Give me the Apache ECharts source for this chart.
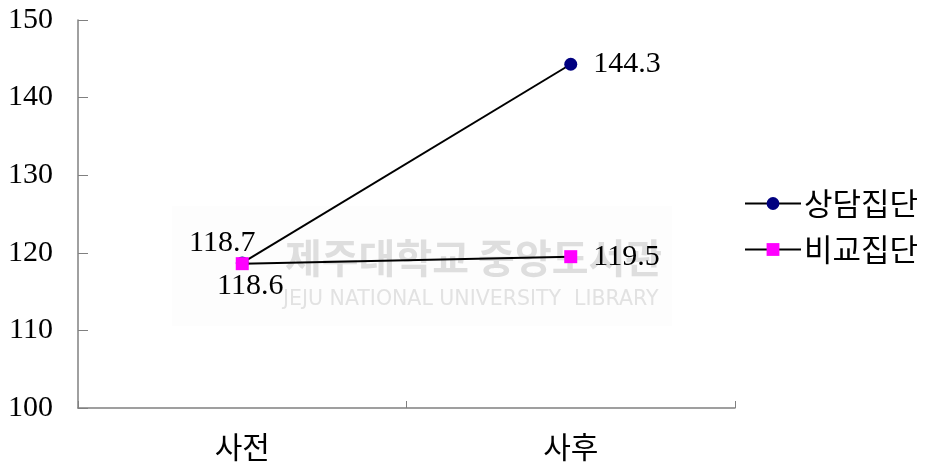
<!DOCTYPE html>
<html>
<head>
<meta charset="utf-8">
<script src="https://cdn.jsdelivr.net/npm/echarts@6/dist/echarts.min.js"></script>
<style>
  html, body { margin: 0; padding: 0; background: #fff; }
  #chart { width: 933px; height: 471px; }
</style>
</head>
<body>
<div id="chart"></div>
<script>
// Pre/post test scores of the counseling group and the comparison group
const categories = ['사전', '사후'];
const seriesNames = ['상담집단', '비교집단'];
const counselingScores = [118.7, 144.3];
const comparisonScores = [118.6, 119.5];
const yTicks = [100, 110, 120, 130, 140, 150];

const serif = '"Liberation Serif", "DejaVu Serif", serif';
const hangul = '"Noto Sans CJK KR", "Noto Sans CJK SC", sans-serif';

const chart = echarts.init(document.getElementById('chart'), null, { renderer: 'canvas' });

// Labels next to each point; the first point of each series sits at the same spot,
// so those two are nudged above-left and below-right.
function labelled(values, firstOffset) {
  return values.map((v, i) => i === 0
    ? { value: v, label: { position: 'inside', offset: firstOffset } }
    : { value: v });
}

chart.setOption({
  animation: false,
  backgroundColor: '#ffffff',
  grid: { left: 78, right: 198, top: 20, bottom: 63, containLabel: false },
  graphic: [
    {
      type: 'group', z: -10, silent: true,
      children: [
        { type: 'rect', shape: { x: 172, y: 206, width: 500, height: 120 },
          style: { fill: '#fdfdfd' } },
        { type: 'text', left: 285, top: 238,
          style: { text: '제주대학교 중앙도서관', font: 'bold 40px ' + hangul, fill: '#dedede' } },
        { type: 'text', left: 283, top: 289,
          style: { text: 'JEJU NATIONAL UNIVERSITY  LIBRARY', font: '20.5px "DejaVu Sans", sans-serif', fill: '#e2e2e2' } }
      ]
    }
  ],
  legend: {
    orient: 'vertical',
    left: 739,
    top: 183,
    itemWidth: 56,
    itemHeight: 16,
    itemGap: 15,
    textStyle: { fontFamily: hangul, fontSize: 31, color: '#000', padding: [0, 0, 0, -2] },
    data: seriesNames
  },
  xAxis: {
    type: 'category',
    data: categories,
    boundaryGap: true,
    axisLine: { lineStyle: { color: '#808080', width: 1.5 } },
    axisTick: { show: true, inside: true, length: 7, alignWithLabel: false, lineStyle: { color: '#808080' } },
    axisLabel: { fontFamily: hangul, fontSize: 30, color: '#000', margin: 24 },
    splitLine: { show: false }
  },
  yAxis: {
    type: 'value',
    min: yTicks[0],
    max: yTicks[yTicks.length - 1],
    interval: 10,
    axisLine: { show: true, lineStyle: { color: '#808080', width: 1.5 } },
    axisTick: { show: true, inside: true, length: 10, lineStyle: { color: '#808080' } },
    axisLabel: { fontFamily: serif, fontSize: 30, color: '#000', margin: 25 },
    splitLine: { show: false }
  },
  series: [
    {
      name: seriesNames[0],
      type: 'line',
      data: labelled(counselingScores, [-20, -20]),
      symbol: 'circle',
      symbolSize: 13,
      itemStyle: { color: '#000080' },
      lineStyle: { color: '#000000', width: 2 },
      label: { show: true, position: 'right', distance: 16, fontFamily: serif, fontSize: 30, color: '#000' },
      z: 3
    },
    {
      name: seriesNames[1],
      type: 'line',
      data: labelled(comparisonScores, [8, 22]),
      symbol: 'rect',
      symbolSize: 13,
      itemStyle: { color: '#ff00ff' },
      lineStyle: { color: '#000000', width: 2 },
      label: { show: true, position: 'right', distance: 16, fontFamily: serif, fontSize: 30, color: '#000' },
      z: 4
    }
  ]
});
</script>
</body>
</html>
